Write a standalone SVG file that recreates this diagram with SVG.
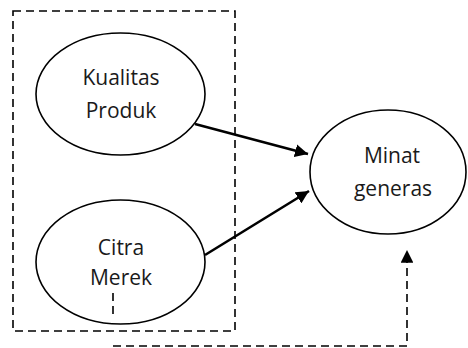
<svg xmlns="http://www.w3.org/2000/svg" width="468" height="348" viewBox="0 0 468 348">
<defs>
<style>
.node ellipse{fill:#fff;stroke:#000;stroke-width:1.6}
.lbl{font-family:"Open Sans","Liberation Sans",sans-serif;font-size:21px;fill:#1a1a1a;text-anchor:middle}
.dash{fill:none;stroke:#000;stroke-width:1.6;stroke-dasharray:8,5}
.arr{fill:none;stroke:#000;stroke-width:2.6}
</style>
<marker id="ah" viewBox="0 0 10 10" refX="10" refY="5" markerWidth="5" markerHeight="5" markerUnits="strokeWidth" orient="auto">
<path d="M0,0 L10,5 L0,10 z" fill="#000"/>
</marker>
<marker id="ah2" viewBox="0 0 10 10" refX="10" refY="5" markerWidth="8" markerHeight="8" markerUnits="strokeWidth" orient="auto">
<path d="M0,0 L10,5 L0,10 z" fill="#000"/>
</marker>
</defs>
<rect width="468" height="348" fill="#fff"/>
<rect id="group-box" x="13" y="11" width="222" height="320" class="dash"/>
<g id="kualitas" class="node">
<ellipse cx="120.5" cy="94" rx="84.5" ry="61"/>
<text class="lbl" x="121" y="85">Kualitas</text>
<text class="lbl" x="121" y="118">Produk</text>
</g>
<g id="citra" class="node">
<ellipse cx="120.5" cy="262" rx="84.5" ry="62"/>
<text class="lbl" x="121" y="255">Citra</text>
<text class="lbl" x="121" y="285">Merek</text>
</g>
<g id="minat" class="node">
<ellipse cx="388" cy="172" rx="78" ry="62"/>
<text class="lbl" x="392" y="163">Minat</text>
<text class="lbl" x="393" y="196">generas</text>
</g>
<g id="connectors">
<line class="arr" x1="195" y1="124" x2="308" y2="154" marker-end="url(#ah)"/>
<line class="arr" x1="205" y1="255" x2="309" y2="191" marker-end="url(#ah)"/>
<line class="dash" x1="113" y1="293" x2="113" y2="318" stroke-dasharray="9,6"/>
<path class="dash" d="M113,346 H407 V250" marker-end="url(#ah2)"/>
</g>
</svg>
